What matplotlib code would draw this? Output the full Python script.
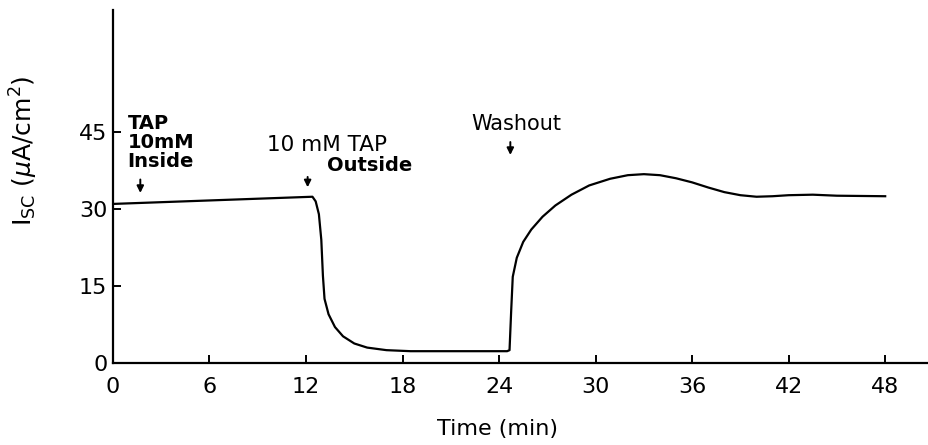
import matplotlib
matplotlib.use("Agg")
import matplotlib.pyplot as plt

# short-circuit current trace (min, uA/cm2)
time_min = [0, 12.4, 12.6, 12.8, 12.95, 13.05, 13.15, 13.4, 13.8, 14.3, 15.0,
            15.8, 17.0, 18.5, 24.5, 24.65, 24.75, 24.85, 25.1, 25.5, 26.0,
            26.7, 27.5, 28.5, 29.6, 30.9, 32.0, 33.0, 34.0, 35.0, 36.0, 37.0,
            38.0, 39.0, 40.0, 41.0, 42.0, 43.5, 45.0, 48.0]
isc = [31.0, 32.4, 31.5, 29.0, 24.0, 17.0, 12.5, 9.5, 7.0, 5.2, 3.8,
       3.0, 2.5, 2.3, 2.3, 2.5, 10.0, 16.8, 20.5, 23.6, 26.0,
       28.5, 30.7, 32.8, 34.6, 35.9, 36.6, 36.8, 36.6, 36.0, 35.2, 34.2,
       33.3, 32.7, 32.4, 32.5, 32.7, 32.8, 32.6, 32.5]

xticks = [0, 6, 12, 18, 24, 30, 36, 42, 48]
yticks = [0, 15, 30, 45]

plt.rcParams['font.family'] = ['DejaVu Sans']

fig = plt.figure(figsize=(9.29, 4.45), dpi=100)
ax = fig.add_axes([0.1216, 0.1843, 0.878, 0.7933])

ax.plot(time_min, isc, color='black', lw=1.6)

ax.set_xlim(0, 50.7)
ax.set_ylim(0, 68.8)
ax.spines['top'].set_visible(False)
ax.spines['right'].set_visible(False)
ax.spines['left'].set_linewidth(1.6)
ax.spines['bottom'].set_linewidth(1.6)
ax.set_xticks(xticks)
ax.set_yticks(yticks)
ax.tick_params(direction='in', length=6, width=1.4, labelsize=16)
ax.tick_params(axis='x', pad=10)
ax.tick_params(axis='y', pad=4)

ax.set_xlabel("Time (min)", fontsize=16)
ax.xaxis.set_label_coords(0.472, -0.16)
ax.set_ylabel(r"I$_{\mathrm{SC}}$ ($\mu$A/cm$^2$)", fontsize=18)
ax.yaxis.set_label_coords(-0.09, 0.6)

# event markers
ax.text(0.9, 48.5, "TAP\n10mM\nInside", fontsize=14, fontweight='bold',
        ha='left', va='top', linespacing=1.0)
ax.annotate("", xy=(1.7, 32.6), xytext=(1.7, 36.3),
            arrowprops=dict(arrowstyle='-|>', color='black', lw=1.4,
                            mutation_scale=10))

ax.text(9.6, 44.4, "10 mM TAP", fontsize=15.5, ha='left', va='top')
ax.text(13.3, 40.4, "Outside", fontsize=14, fontweight='bold', ha='left', va='top')
ax.annotate("", xy=(12.1, 33.7), xytext=(12.1, 36.8),
            arrowprops=dict(arrowstyle='-|>', color='black', lw=1.4,
                            mutation_scale=10))

ax.text(22.3, 48.5, "Washout", fontsize=15, ha='left', va='top')
ax.annotate("", xy=(24.7, 40.0), xytext=(24.7, 43.6),
            arrowprops=dict(arrowstyle='-|>', color='black', lw=1.4,
                            mutation_scale=10))

fig.savefig("out.png", dpi=100)
